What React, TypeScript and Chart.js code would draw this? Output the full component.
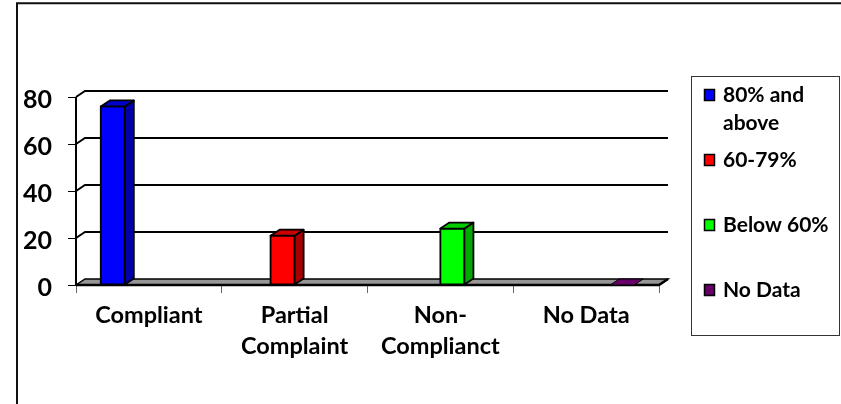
import React, { useEffect, useRef } from "react";
import { Chart, registerables } from "chart.js";

Chart.register(...registerables);

const CATEGORIES: string[][] = [["Compliant"], ["Partial", "Complaint"], ["Non-", "Complianct"], ["No Data"]];
const SERIES_LABELS = ["80% and above", "60-79%", "Below 60%", "No Data"];
const SERIES_COLORS = ["#0000FF", "#FF0000", "#00FF00", "#660066"];
const SERIES_SIDE = ["#0000A8", "#A80000", "#00A800", "#440044"];
const SERIES_TOP = ["#0000CC", "#CC0000", "#00CC00", "#660066"];
const COMPLIANT = [76, null, null, null];
const PARTIAL = [null, 21, null, null];
const NON_COMPLIANT = [null, null, 24, null];
const NO_DATA = [null, null, null, 0];
const Y_TICKS = { min: 0, max: 80, step: 20 };

const FONT = "Lato, 'DejaVu Sans', sans-serif";
const DX = 9;
const DY = 6;

const threeD = {
  id: "threeD",
  beforeDatasetsDraw(chart: any) {
    const { ctx, chartArea, scales } = chart;
    const { left, right, top, bottom } = chartArea;
    const y = scales.y;
    ctx.save();
    // floor
    ctx.beginPath();
    ctx.moveTo(left, bottom);
    ctx.lineTo(right, bottom);
    ctx.lineTo(right + DX, bottom - DY);
    ctx.lineTo(left + DX, bottom - DY);
    ctx.closePath();
    ctx.fillStyle = "#969696";
    ctx.fill();
    ctx.strokeStyle = "#000";
    ctx.lineWidth = 1.5;
    ctx.stroke();
    // back gridlines with left wall diagonals
    ctx.lineWidth = 2;
    y.ticks.forEach((t: any) => {
      if (t.value === Y_TICKS.min) return;
      const yy = y.getPixelForValue(t.value);
      ctx.beginPath();
      ctx.moveTo(left, yy);
      ctx.lineTo(left + DX, yy - DY);
      ctx.lineTo(right + DX, yy - DY);
      ctx.stroke();
    });
    // front vertical axis
    ctx.beginPath();
    ctx.moveTo(left, top);
    ctx.lineTo(left, bottom);
    ctx.stroke();
    // floor front edge
    ctx.lineWidth = 2.5;
    ctx.beginPath();
    ctx.moveTo(left, bottom);
    ctx.lineTo(right, bottom);
    ctx.lineTo(right + DX, bottom - DY);
    ctx.stroke();
    ctx.restore();
  },
  afterDatasetsDraw(chart: any) {
    const { ctx } = chart;
    ctx.save();
    ctx.lineJoin = "round";
    chart.data.datasets.forEach((ds: any, i: number) => {
      const meta = chart.getDatasetMeta(i);
      meta.data.forEach((el: any, j: number) => {
        const v = ds.data[j];
        if (v === null || v === undefined) return;
        const { x, y, base, width } = el.getProps(["x", "y", "base", "width"], true);
        const l = x - width / 2;
        const r = x + width / 2;
        ctx.strokeStyle = "#000";
        ctx.lineWidth = 1.8;
        if (base - y > 0.5) {
          // front
          ctx.beginPath();
          ctx.rect(l, y, r - l, base - y);
          ctx.fillStyle = SERIES_COLORS[i];
          ctx.fill();
          ctx.stroke();
          // side
          ctx.beginPath();
          ctx.moveTo(r, y);
          ctx.lineTo(r + DX, y - DY);
          ctx.lineTo(r + DX, base - DY);
          ctx.lineTo(r, base);
          ctx.closePath();
          ctx.fillStyle = SERIES_SIDE[i];
          ctx.fill();
          ctx.stroke();
        }
        // top
        ctx.beginPath();
        ctx.moveTo(l, y);
        ctx.lineTo(r, y);
        ctx.lineTo(r + DX, y - DY);
        ctx.lineTo(l + DX, y - DY);
        ctx.closePath();
        ctx.fillStyle = SERIES_TOP[i];
        ctx.fill();
        ctx.lineWidth = base - y > 0.5 ? 1.8 : 1;
        ctx.stroke();
      });
    });
    ctx.restore();
  },
  afterDraw(chart: any) {
    const { ctx } = chart;
    ctx.save();
    // outer frame
    ctx.strokeStyle = "#111";
    ctx.lineWidth = 2;
    ctx.beginPath();
    ctx.moveTo(17, 404);
    ctx.lineTo(17, 3.3);
    ctx.lineTo(841, 3.3);
    ctx.stroke();
    // legend box
    const bx = 691.5, by = 76.5, bw = 148, bh = 259;
    ctx.fillStyle = "#fff";
    ctx.fillRect(bx, by, bw, bh);
    ctx.strokeStyle = "#333";
    ctx.lineWidth = 1;
    ctx.strokeRect(bx, by, bw, bh);
    ctx.font = `bold 21px ${FONT}`;
    ctx.textBaseline = "middle";
    ctx.textAlign = "left";
    const textX = 723;
    const maxW = 112;
    chart.data.datasets.forEach((ds: any, i: number) => {
      const cy = 95 + i * 65;
      ctx.fillStyle = SERIES_COLORS[i];
      ctx.fillRect(704.5, cy - 5.5, 10, 11);
      ctx.strokeStyle = "#000";
      ctx.lineWidth = 1.5;
      ctx.strokeRect(704.5, cy - 5.5, 10, 11);
      // wrap text
      const words = String(ds.label).split(" ");
      const lines: string[] = [];
      let cur = "";
      words.forEach((w) => {
        const test = cur ? cur + " " + w : w;
        if (ctx.measureText(test).width > maxW && cur) {
          lines.push(cur);
          cur = w;
        } else cur = test;
      });
      if (cur) lines.push(cur);
      ctx.fillStyle = "#000";
      lines.forEach((ln, k) => ctx.fillText(ln, textX, cy + k * 28));
    });
    ctx.restore();
  },
};

export default function App() {
  const ref = useRef<HTMLCanvasElement>(null);
  useEffect(() => {
    if (!ref.current) return;
    const seriesData = [COMPLIANT, PARTIAL, NON_COMPLIANT, NO_DATA];
    const chart = new Chart(ref.current, {
      type: "bar",
      data: {
        labels: CATEGORIES,
        datasets: seriesData.map((d, i) => ({
          label: SERIES_LABELS[i],
          data: d,
          backgroundColor: SERIES_COLORS[i],
          borderWidth: 0,
          barPercentage: 1,
          categoryPercentage: 0.66,
        })),
      },
      options: {
        responsive: false,
        animation: false,
        devicePixelRatio: 1,
        layout: { padding: { left: 0, top: 97, right: 182, bottom: 0 } },
        plugins: { legend: { display: false }, tooltip: { enabled: false }, title: { display: false } },
        scales: {
          x: {
            grid: { offset: true, drawOnChartArea: false, drawTicks: true, tickLength: 8, color: "#666", lineWidth: 1 },
            border: { display: false },
            ticks: { font: { family: FONT, size: 23.5, weight: "bold", lineHeight: 1.33 }, color: "#000", padding: 7, maxRotation: 0, autoSkip: false },
            afterFit: (s: any) => { s.height = 119; },
          },
          y: {
            min: Y_TICKS.min,
            max: Y_TICKS.max,
            ticks: { stepSize: Y_TICKS.step, font: { family: FONT, size: 25, weight: "bold" }, color: "#000", padding: 16, labelOffset: 3 },
            grid: { drawOnChartArea: false, tickLength: 8, color: "#000", lineWidth: 1 },
            border: { display: false },
            afterFit: (s: any) => { s.width = 76; },
          },
        },
      },
      plugins: [threeD],
    } as any);
    return () => chart.destroy();
  }, []);
  return (
    <div style={{ position: "absolute", left: 0, top: 0, width: 841, height: 404, background: "#fff" }}>
      <canvas ref={ref} width={841} height={404} style={{ display: "block" }} />
    </div>
  );
}
